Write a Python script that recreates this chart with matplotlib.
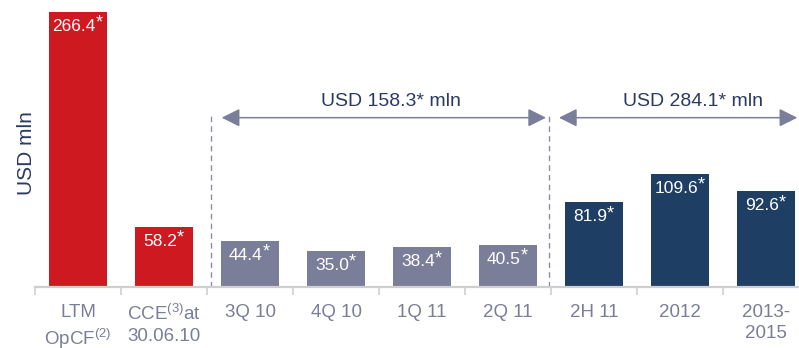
import numpy as np
import matplotlib
matplotlib.use("Agg")
import matplotlib.pyplot as plt

plt.rcParams['font.family'] = ['Liberation Sans', 'DejaVu Sans']
plt.rcParams['mathtext.fontset'] = 'custom'
plt.rcParams['mathtext.rm'] = 'Liberation Sans'
plt.rcParams['mathtext.it'] = 'Liberation Sans:italic'
plt.rcParams['mathtext.bf'] = 'Liberation Sans:bold'

# data
categories = ["LTM\nOpCF$^{(2)}$", "CCE$^{(3)}$at\n30.06.10", "3Q 10", "4Q 10", "1Q 11",
              "2Q 11", "2H 11", "2012", "2013-\n2015"]
values = [266.4, 58.2, 44.4, 35.0, 38.4, 40.5, 81.9, 109.6, 92.6]
groups = ["cash", "cash", "hist", "hist", "hist", "hist", "plan", "plan", "plan"]
bracket_texts = ["USD 158.3* mln", "USD 284.1* mln"]

red = "#cf1920"
grey = "#7a7e98"
navy = "#1e3f63"
text_navy = "#2b3a63"
colors = {"cash": red, "hist": grey, "plan": navy}

fig = plt.figure(figsize=(7.99, 3.48), dpi=100)
ax = fig.add_axes([35 / 799, 61 / 348, 764 / 799, 287 / 348])

x = np.arange(len(values))
ax.bar(x, values, width=0.675, color=[colors[g] for g in groups], zorder=2)

ax.set_xlim(-0.5, 8.38)
ax.set_ylim(0, 278)

# value labels inside bars, asterisk added after the number
num_texts = []
for xi, v in zip(x, values):
    t = ax.annotate(f"{v:.1f}", (xi, v), xytext=(-3, -5),
                    textcoords="offset points", ha="center", va="top",
                    color="white", fontsize=12.5)
    num_texts.append(t)
fig.canvas.draw()
renderer = fig.canvas.get_renderer()
inv = ax.transData.inverted()
for t, v in zip(num_texts, values):
    bb = t.get_window_extent(renderer)
    xr = inv.transform((bb.x1, bb.y1))[0]
    ax.annotate("*", (xr, v), xytext=(0, -2), textcoords="offset points",
                ha="left", va="top", color="white", fontsize=13)

for s in ["top", "right", "left"]:
    ax.spines[s].set_visible(False)
ax.spines["bottom"].set_color("#cfcfcf")
ax.spines["bottom"].set_linewidth(1.6)
ax.set_yticks([])

ax.set_xticks(x)
ax.set_xticklabels(categories, color=grey, fontsize=13.5)
ax.tick_params(axis="x", which="major", length=0, pad=12)
ax.set_xticks(np.arange(-0.5, 8.5, 1.0), minor=True)
ax.tick_params(axis="x", which="minor", length=6, width=1.2, color="#cfcfcf", direction="out")
for lab in ax.get_xticklabels():
    lab.set_linespacing(1.35)

# dashed separators
ax.vlines([1.55, 5.48], 0, 167, colors="#8a8ea8", linestyles=(0, (4, 3)), linewidth=1, zorder=1)

# bracket arrows
arrow_props = dict(arrowstyle="<|-|>,head_length=1.0,head_width=0.5", color=grey,
                   lw=1.1, mutation_scale=11, shrinkA=0, shrinkB=0)
ax.annotate("", xy=(5.44, 164), xytext=(1.67, 164), arrowprops=arrow_props)
ax.annotate("", xy=(8.36, 164), xytext=(5.59, 164), arrowprops=arrow_props)
ax.text(3.64, 180, bracket_texts[0], ha="center", va="center", color=text_navy, fontsize=14)
ax.text(7.15, 180, bracket_texts[1], ha="center", va="center", color=text_navy, fontsize=14)

fig.text(26 / 799, 1 - 153 / 348, "USD mln", rotation=90, ha="center", va="center",
         color=text_navy, fontsize=15)

fig.savefig("out.png", dpi=100)
